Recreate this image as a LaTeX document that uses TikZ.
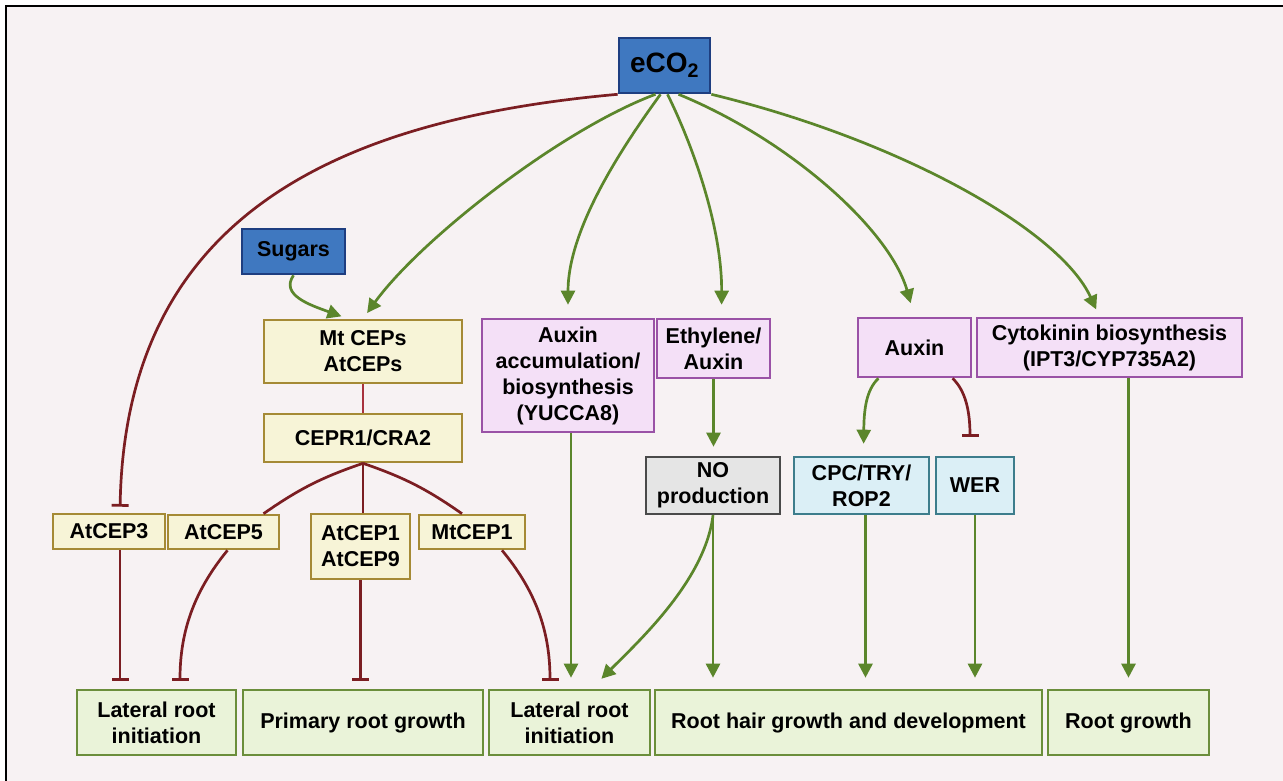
\documentclass[tikz,border=0pt]{standalone}
\usepackage{fontspec}
\setmainfont{Liberation Sans}
\usetikzlibrary{arrows.meta}

\definecolor{bgcol}{HTML}{F7F2F3}
\definecolor{actcol}{HTML}{5B862B}
\definecolor{inhcol}{HTML}{7B1E22}
\definecolor{linkcol}{HTML}{A8323E}
\definecolor{blfill}{HTML}{3F78C0}
\definecolor{bldraw}{HTML}{1E3E80}
\definecolor{yefill}{HTML}{F7F4D7}
\definecolor{yedraw}{HTML}{A58A35}
\definecolor{pufill}{HTML}{F4E0F7}
\definecolor{pudraw}{HTML}{9A52A6}
\definecolor{cyfill}{HTML}{DBEFF6}
\definecolor{cydraw}{HTML}{3D7D8C}
\definecolor{grfill}{HTML}{E5E5E5}
\definecolor{grdraw}{HTML}{4A4A4A}
\definecolor{gnfill}{HTML}{EAF3D9}
\definecolor{gndraw}{HTML}{6B8E3B}

\tikzstyle{box}=[draw, line width=2.6pt, inner sep=0, align=center,
	font=\bfseries\fontsize{21.5}{26}\selectfont]
\tikzstyle{bluebox}=[box, fill=blfill, draw=bldraw]
\tikzstyle{cepbox}=[box, fill=yefill, draw=yedraw]
\tikzstyle{hormbox}=[box, fill=pufill, draw=pudraw]
\tikzstyle{genebox}=[box, fill=cyfill, draw=cydraw]
\tikzstyle{nobox}=[box, fill=grfill, draw=grdraw]
\tikzstyle{outbox}=[box, fill=gnfill, draw=gndraw]
\tikzstyle{act}=[actcol, line width=2.7pt, -{Triangle[length=14pt,width=14pt]}]
\tikzstyle{inh}=[inhcol, line width=2.7pt, -{Bar[width=17pt]}]
\tikzstyle{link}=[inhcol, line width=2.7pt]

\begin{document}
\begin{tikzpicture}[x=1pt, y=-1pt]
	\useasboundingbox (0,0) rectangle (1283,780);
	\fill[white] (0,0) rectangle (1283,780);
	\draw[line width=2.5pt, fill=bgcol] (6,6) rectangle (1300,800);

	\node[bluebox, minimum width=91pt, minimum height=55pt,
		font=\bfseries\fontsize{28}{30}\selectfont] (eco2) at (664.5,65.5) {eCO\textsubscript{2}};
	\node[bluebox, minimum width=103pt, minimum height=45pt] (sugars) at (293.5,251.5) {Sugars};

	\node[cepbox, minimum width=198pt, minimum height=63pt] (mtceps) at (363,351.5) {Mt CEPs\\AtCEPs};
	\node[cepbox, minimum width=198pt, minimum height=48pt] (cepr) at (363,438) {CEPR1/CRA2};
	\node[cepbox, minimum width=112pt, minimum height=35pt] (atcep3) at (109,531.5) {AtCEP3};
	\node[cepbox, minimum width=111pt, minimum height=34pt] (atcep5) at (223.5,532) {AtCEP5};
	\node[cepbox, minimum width=99pt, minimum height=65pt] (atcep19) at (360.5,546.5) {AtCEP1\\AtCEP9};
	\node[cepbox, minimum width=106pt, minimum height=34pt] (mtcep1) at (472,532) {MtCEP1};

	\node[hormbox, minimum width=172pt, minimum height=113pt] (auxacc) at (568,375.5)
		{Auxin\\accumulation/\\biosynthesis\\(YUCCA8)};
	\node[hormbox, minimum width=113pt, minimum height=59pt] (ethyl) at (713.5,348.5) {Ethylene/\\Auxin};
	\node[nobox, minimum width=134pt, minimum height=57pt] (noprod) at (713,485.5) {NO\\production};
	\node[hormbox, minimum width=113pt, minimum height=59pt] (auxin) at (914.5,347.5) {Auxin};
	\node[hormbox, minimum width=265pt, minimum height=59pt] (cyto) at (1109.5,347.5)
		{Cytokinin biosynthesis\\(IPT3/CYP735A2)};
	\node[genebox, minimum width=135pt, minimum height=57pt] (cpc) at (861.5,485.5) {CPC/TRY/\\ROP2};
	\node[genebox, minimum width=78pt, minimum height=57pt] (wer) at (975,485.5) {WER};

	% responses
	\node[outbox, minimum width=159pt, minimum height=65pt] (lri1) at (156.5,722.5) {Lateral root\\initiation};
	\node[outbox, minimum width=240pt, minimum height=65pt] (prg) at (363,722.5) {Primary root growth};
	\node[outbox, minimum width=161pt, minimum height=65pt] (lri2) at (569.5,722.5) {Lateral root\\initiation};
	\node[outbox, minimum width=387pt, minimum height=65pt] (rhg) at (848.5,722.5) {Root hair growth and development};
	\node[outbox, minimum width=161pt, minimum height=65pt] (rg) at (1128.5,722.5) {Root growth};

	% from eCO2
	\draw[inh, shorten >=6pt] (eco2.south west) .. controls (330,120) and (125,220) .. ([xshift=11pt]atcep3.north);
	\draw[act, shorten >=7pt] ([xshift=-9pt]eco2.south) .. controls (560,130) and (420,240) .. (mtceps.north);
	\draw[act, shorten >=7pt] (sugars.south) .. controls (280,295) and (310,305) .. ([xshift=-15pt]mtceps.north);
	\draw[act, shorten >=13pt] ([xshift=-4pt]eco2.south) .. controls (620,150) and (568,230) .. (auxacc.north);
	\draw[act, shorten >=13pt] ([xshift=3pt]eco2.south) .. controls (695,150) and (722,230) .. ([xshift=8pt]ethyl.north);
	\draw[act, shorten >=14pt] ([xshift=14pt]eco2.south) .. controls (790,140) and (890,230) .. (auxin.north);
	\draw[act, shorten >=8pt] (eco2.south east) .. controls (900,140) and (1060,230) .. ([xshift=-10pt]cyto.north);

	% CEP signalling
	\draw[link, linkcol] (mtceps.south) -- (cepr.north);
	\draw[link] (cepr.south) to[bend right=8] ([xshift=40pt]atcep5.north);
	\draw[link] (cepr.south) -- (cepr.south |- atcep19.north);
	\draw[link] (cepr.south) to[bend left=8] ([xshift=-10pt]mtcep1.north);
	\draw[inh, shorten >=8pt] ([xshift=11pt]atcep3.south) -- ([xshift=11pt]atcep3.south |- lri1.north);
	\draw[inh, shorten >=8pt] ([xshift=4pt]atcep5.south) .. controls (195,590) and (180,630) .. ([xshift=23.5pt]lri1.north);
	\draw[inh, shorten >=8pt] (atcep19.south) -- (atcep19.south |- prg.north);
	\draw[inh, shorten >=8pt] ([xshift=30pt]mtcep1.south) .. controls (535,590) and (550,630) .. ([xshift=-19.5pt]lri2.north);

	% hormones
	\draw[act, shorten >=11pt] ([xshift=3pt]auxacc.south) -- ([xshift=3pt]auxacc.south |- lri2.north);
	\draw[act, shorten >=9pt] (ethyl.south) -- (ethyl.south |- noprod.north);
	\draw[act, shorten >=14pt] (noprod.south) .. controls (705,580) and (640,640) .. ([xshift=22pt]lri2.north);
	\draw[act, shorten >=11pt] (noprod.south) -- (noprod.south |- rhg.north);
	\draw[act, shorten >=12pt] ([xshift=-36pt]auxin.south) .. controls (866,390) and (864,410) .. ([xshift=2pt]cpc.north);
	\draw[inh, shorten >=19pt] ([xshift=38pt]auxin.south) .. controls (965,390) and (970,410) .. ([xshift=-5pt]wer.north);
	\draw[act, shorten >=11pt] ([xshift=4pt]cpc.south) -- ([xshift=4pt]cpc.south |- rhg.north);
	\draw[act, shorten >=11pt] (wer.south) -- (wer.south |- rhg.north);
	\draw[act, shorten >=11pt] (rg.north |- cyto.south) -- (rg.north);
\end{tikzpicture}
\end{document}
